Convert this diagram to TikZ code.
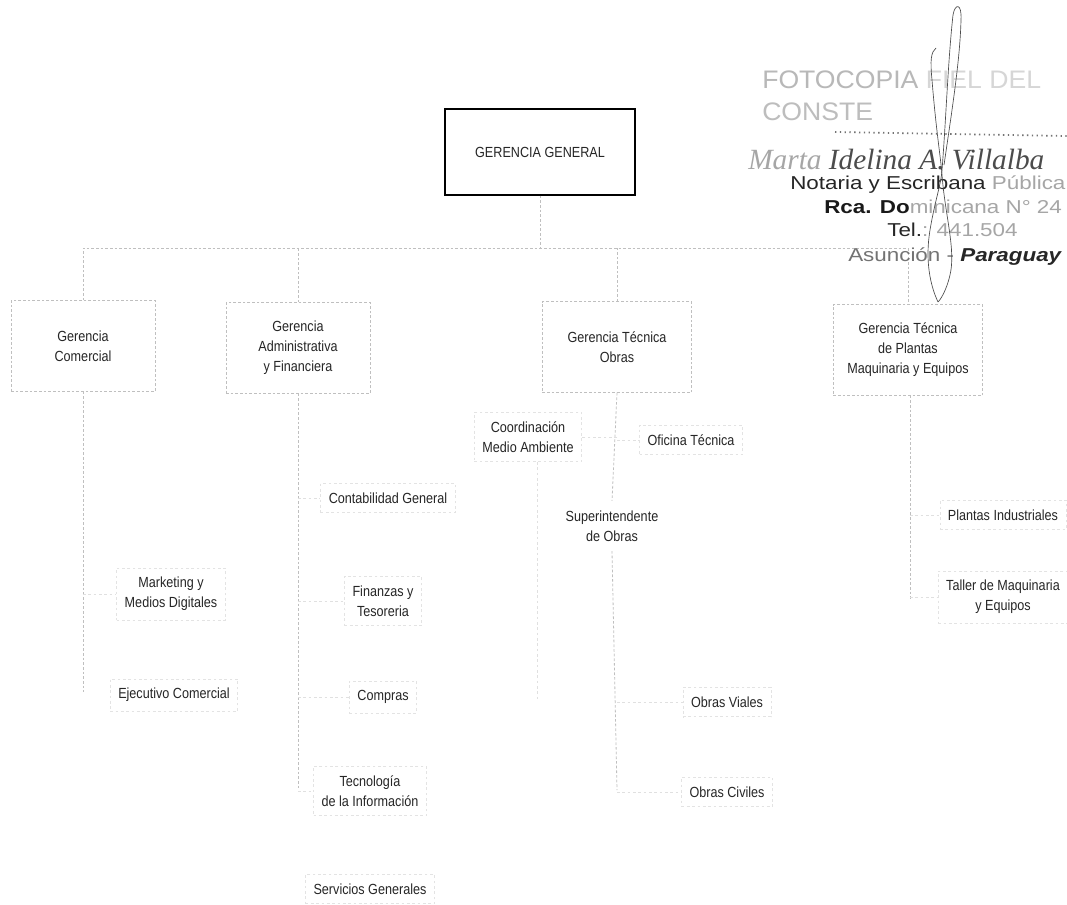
\documentclass[tikz,border=0pt]{standalone}
\usepackage{fontspec}
\setmainfont{Liberation Sans}
\newfontfamily\chartfont{Liberation Sans}[FakeStretch=0.86]
\newfontfamily\stampfont{Liberation Sans}[FakeStretch=1.2]
\newfontfamily\stamplight{Liberation Sans}[FakeStretch=1.05]
\newfontfamily\signfont{Liberation Serif}
\tikzset{
  lbl/.style={font=\chartfont\fontsize{11}{15}\selectfont, align=center, text=black!85},
  faintline/.style={draw=black!25, line width=0.6pt, dash pattern=on 2pt off 1.5pt},
  gbox/.style={lbl, faintline, minimum width=108pt, minimum height=68pt, inner sep=0pt},
  subbox/.style={lbl, draw=black!11, line width=0.5pt, dash pattern=on 2pt off 2pt, inner xsep=6pt, inner ysep=7pt},
  topbox/.style={lbl, draw=black, line width=1.6pt, minimum width=143pt, minimum height=64pt},
  link/.style={faintline},
  stub/.style={draw=black!12, line width=0.5pt, dash pattern=on 2pt off 2pt},
  stamp/.style={anchor=west, inner sep=0pt, font=\stampfont\fontsize{14}{14}\selectfont},
  sig/.style={draw=black!70, line width=0.5pt}
}
\begin{document}
\begin{tikzpicture}[x=0.75pt,y=-0.75pt]
\useasboundingbox (0,0) rectangle (1067,904);
\fill[white] (0,0) rectangle (1067,904);

% top
\node[topbox] (gg) at (540,152) {GERENCIA GENERAL};

% second level
\node[gbox] (com) at (83,346) {Gerencia\\Comercial};
\node[gbox] (adm) at (298,348) {Gerencia\\Administrativa\\y Financiera};
\node[gbox, minimum width=112pt] (obr) at (617,347) {Gerencia Técnica\\Obras};
\node[gbox, minimum width=112pt] (pla) at (908,350) {Gerencia Técnica\\de Plantas\\Maquinaria y Equipos};

% third level
\node[subbox] (mkt) at (171,594) {Marketing y\\Medios Digitales};
\node[subbox] (eje) at (174,695) {Ejecutivo Comercial};
\node[subbox] (con) at (388,498) {Contabilidad General};
\node[subbox] (fin) at (383,601) {Finanzas y\\Tesoreria};
\node[subbox] (cmp) at (383,697) {Compras};
\node[subbox] (tec) at (370,791) {Tecnología\\de la Información};
\node[subbox] (ser) at (370,889) {Servicios Generales};
\node[subbox] (coo) at (528,437) {Coordinación\\Medio Ambiente};
\node[subbox] (ofi) at (691,440) {Oficina Técnica};
\node[subbox, draw=none] (sup) at (612,526) {Superintendente\\de Obras};
\node[subbox] (via) at (727,702) {Obras Viales};
\node[subbox] (civ) at (727,792) {Obras Civiles};
\node[subbox] (pin) at (1003,515) {Plantas Industriales};
\node[subbox] (tal) at (1003,597) {Taller de Maquinaria\\y Equipos};

% connectors level 1
\coordinate (bus) at (540,248);
\draw[link] (gg.south) -- (bus);
\draw[link] (com.north) -- (com.north |- bus) -- (pla.north |- bus) -- (pla.north);
\draw[link] (adm.north) -- (adm.north |- bus);
\draw[link] (obr.north) -- (obr.north |- bus);

% trunks
\coordinate (comend) at (83,692);
\draw[link] (com.south) -- (comend);
\draw[stub] (com.south |- mkt.west) -- (mkt.west);
\coordinate (admend) at (298,790);
\draw[link] (adm.south) -- (admend);
\draw[stub] (adm.south |- con.west) -- (con.west);
\draw[stub] (adm.south |- fin.west) -- (fin.west);
\draw[stub] (adm.south |- cmp.west) -- (cmp.west);
\draw[stub] (adm.south |- tec.west) -- (tec.west);
\coordinate (obrend) at (617,790);
\draw[link] (obr.south) -- (sup.north);
\draw[link] (sup.south) -- (obrend);
\draw[stub] (obr.south |- coo.east) -- (coo.east);
\draw[stub] (obr.south |- ofi.west) -- (ofi.west);
\draw[stub] (obrend |- via.west) -- (via.west);
\draw[stub] (obrend |- civ.west) -- (civ.west);
\coordinate (cooend) at (537,700);
\draw[stub] (coo.south -| cooend) -- (cooend);
\coordinate (plaend) at (910,600);
\draw[link] (pla.south -| plaend) -- (plaend);
\draw[stub] (plaend |- pin.west) -- (pin.west);
\draw[stub] (plaend |- tal.west) -- (tal.west);

% notary stamp
\begin{scope}
\clip (0,0) rectangle (1067,904);
\node[anchor=west, inner sep=0pt, font=\stamplight\fontsize{19}{19}\selectfont, text=black!28] (s1) at (762,80) {FOTOCOPIA {\color{black!16}FIEL DEL}};
\node[anchor=west, inner sep=0pt, font=\stamplight\fontsize{19}{19}\selectfont, text=black!26] (s2) at (762,112) {CONSTE};
\coordinate (dotA) at (835,132);
\coordinate (dotB) at (1067,136);
\draw[black!55, line width=1.3pt, dash pattern=on 1pt off 2.6pt] (dotA) -- (dotB);
\node[anchor=west, inner sep=0pt, font=\signfont\itshape\fontsize{22}{22}\selectfont, text=black!70] (s3) at (748,160) {{\color{black!35}Marta} Idelina A. Villalba};
\node[stamp, text=black!85] (s4) at (790,185) {Notaria y Escribana {\color{black!35}Pública}};
\node[stamp, text=black!35] (s5) at (824,207) {{\color{black!90}\bfseries Rca. Do}minicana N° 24};
\node[stamp, text=black!35] (s6) at (887,230) {{\color{black!85}Tel.}: 441.504};
\node[stamp, text=black!55] (s7) at (848,257) {Asunción - {\color{black!85}\bfseries\itshape Paraguay}};
% signature strokes
\draw[sig] (936,48) .. controls (931,52) and (930,60) .. (932,80) .. controls (936,130) and (941,160) .. (942,175) .. controls (945,215) and (956,250) .. (950,275) .. controls (946,292) and (940,300) .. (938,302);
\draw[sig] (938,302) .. controls (930,285) and (925,260) .. (930,230) .. controls (935,200) and (941,185) .. (942,170) .. controls (946,120) and (948,60) .. (953,15) .. controls (955,3) and (962,3) .. (961,20) .. controls (960,60) and (952,110) .. (944,165);
\end{scope}
\end{tikzpicture}
\end{document}
